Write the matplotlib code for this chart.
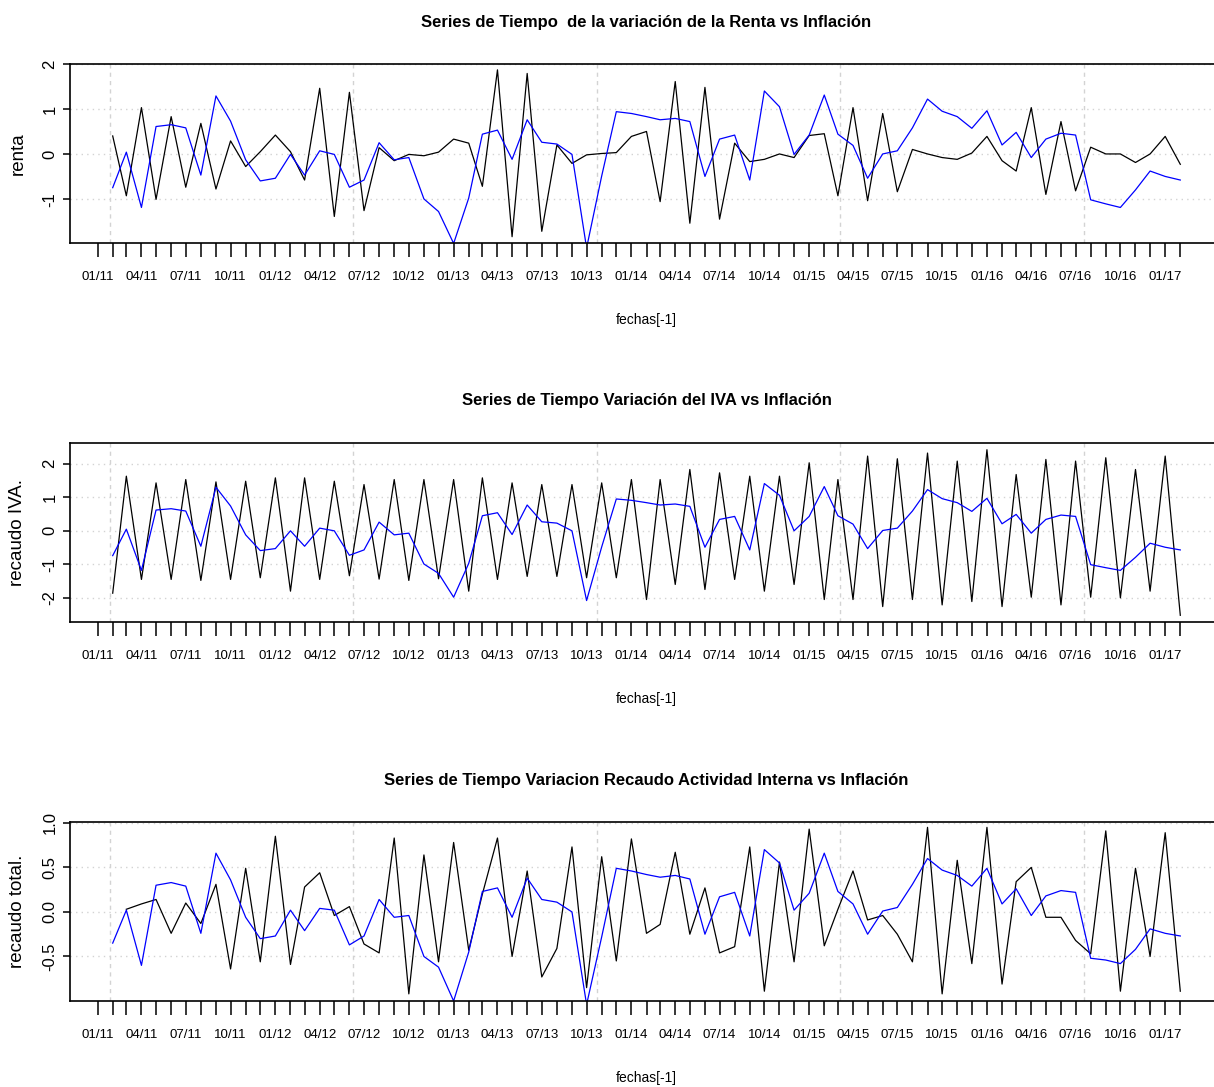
import numpy as np
import pandas as pd
import matplotlib
matplotlib.use('Agg')
from matplotlib import pyplot as plt
import matplotlib.dates as mdates

# Datos (02/11 .. 02/17, mensual)
fechas = pd.date_range('2011-02-01', periods=73, freq='MS')

inflacion = [
    -0.74, 0.05, -1.18, 0.62, 0.66, 0.59, -0.46, 1.30, 0.74, -0.12, -0.59,
    -0.53, 0.00, -0.46, 0.08, 0.00, -0.73, -0.57, 0.26, -0.12, -0.07, -0.99,
    -1.27, -1.98, -0.97, 0.45, 0.54, -0.11, 0.77, 0.27, 0.23, 0.00, -2.08,
    -0.48, 0.95, 0.91, 0.84, 0.77, 0.80, 0.73, -0.49, 0.34, 0.43, -0.57,
    1.41, 1.06, 0.00, 0.43, 1.32, 0.45, 0.20, -0.53, 0.01, 0.08, 0.59, 1.23,
    0.96, 0.84, 0.58, 0.97, 0.21, 0.49, -0.07, 0.34, 0.47, 0.43, -1.01,
    -1.10, -1.18, -0.79, -0.37, -0.49, -0.57]

renta = [
    0.41, -0.92, 1.04, -1.00, 0.84, -0.73, 0.69, -0.77, 0.30, -0.27, 0.06,
    0.43, 0.06, -0.57, 1.47, -1.38, 1.38, -1.25, 0.15, -0.14, 0.00, -0.03,
    0.05, 0.34, 0.25, -0.71, 1.88, -1.83, 1.80, -1.71, 0.21, -0.20, -0.01,
    0.02, 0.04, 0.40, 0.51, -1.05, 1.62, -1.53, 1.49, -1.44, 0.25, -0.16,
    -0.11, 0.01, -0.07, 0.42, 0.46, -0.92, 1.04, -1.03, 0.91, -0.83, 0.11,
    0.01, -0.07, -0.11, 0.03, 0.40, -0.14, -0.37, 1.04, -0.89, 0.73, -0.81,
    0.16, 0.01, 0.01, -0.18, 0.01, 0.40, -0.22]

iva = [
    -1.86, 1.63, -1.45, 1.43, -1.45, 1.53, -1.48, 1.46, -1.45, 1.48, -1.40,
    1.58, -1.80, 1.58, -1.45, 1.48, -1.34, 1.38, -1.44, 1.53, -1.48, 1.53,
    -1.43, 1.53, -1.80, 1.58, -1.45, 1.43, -1.36, 1.38, -1.36, 1.38, -1.40,
    1.43, -1.40, 1.53, -2.05, 1.53, -1.60, 1.83, -1.75, 1.73, -1.45, 1.63,
    -1.80, 1.63, -1.60, 2.03, -2.05, 1.53, -2.05, 2.23, -2.26, 2.15, -2.05,
    2.32, -2.21, 2.08, -2.11, 2.42, -2.26, 1.68, -1.98, 2.13, -2.21, 2.08,
    -1.98, 2.18, -2.00, 1.83, -1.80, 2.23, -2.52]

inflacion_total = [
    -0.35, 0.02, -0.60, 0.30, 0.33, 0.29, -0.24, 0.66, 0.36, -0.06, -0.30,
    -0.27, 0.02, -0.21, 0.04, 0.02, -0.37, -0.27, 0.14, -0.06, -0.04, -0.50,
    -0.62, -1.00, -0.45, 0.23, 0.27, -0.06, 0.38, 0.14, 0.11, 0.00, -1.04,
    -0.28, 0.49, 0.46, 0.42, 0.39, 0.41, 0.37, -0.25, 0.17, 0.22, -0.27,
    0.70, 0.55, 0.02, 0.21, 0.66, 0.23, 0.09, -0.25, 0.01, 0.05, 0.31, 0.60,
    0.47, 0.41, 0.29, 0.49, 0.09, 0.26, -0.04, 0.18, 0.24, 0.22, -0.52,
    -0.54, -0.58, -0.42, -0.19, -0.24, -0.27]

recaudo_total = [
    np.nan, 0.03, 0.09, 0.14, -0.24, 0.10, -0.13, 0.31, -0.64, 0.49, -0.56,
    0.85, -0.59, 0.28, 0.44, -0.04, 0.06, -0.36, -0.46, 0.83, -0.92, 0.64,
    -0.56, 0.78, -0.43, 0.20, 0.83, -0.50, 0.46, -0.73, -0.41, 0.73, -0.85,
    0.62, -0.55, 0.82, -0.24, -0.14, 0.67, -0.25, 0.27, -0.46, -0.39, 0.73,
    -0.89, 0.56, -0.56, 0.93, -0.38, 0.03, 0.46, -0.09, -0.04, -0.25, -0.56,
    0.95, -0.92, 0.58, -0.58, 0.95, -0.81, 0.34, 0.50, -0.06, -0.06, -0.32,
    -0.47, 0.91, -0.89, 0.49, -0.50, 0.89, -0.89]

titulos = ['Series de Tiempo  de la variación de la Renta vs Inflación',
           'Series de Tiempo Variación del IVA vs Inflación',
           'Series de Tiempo Variacion Recaudo Actividad Interna vs Inflación']
ylabels = ['renta', 'recaudo IVA.', 'recaudo total.']
series = [renta, iva, recaudo_total]
azules = [inflacion, inflacion, inflacion_total]
ylims = [(-1.97, 2.01), (-2.72, 2.62), (-1.0, 1.01)]
yticks = [[-1, 0, 1, 2], [-2, -1, 0, 1, 2], [-0.5, 0.0, 0.5, 1.0]]
yticklabels = [['-1', '0', '1', '2'], ['-2', '-1', '0', '1', '2'],
               ['-0.5', '0.0', '0.5', '1.0']]
tops = [64, 443, 822]

FONT = ['Liberation Sans', 'DejaVu Sans']

W, H = 1214, 1087
fig = plt.figure(figsize=(W / 100, H / 100), dpi=100)

x = mdates.date2num(fechas)
span = x[-1] - x[0]
xlim = (x[0] - 0.04 * span, x[-1] + 0.04 * span)
meses = pd.date_range('2011-01-01', '2017-02-01', freq='MS')
xt = mdates.date2num(meses)
xtl = [m.strftime('%m/%y') if i % 3 == 0 else '' for i, m in enumerate(meses)]

for k in range(3):
    left, right = 70, 1223
    top, bottom = tops[k], tops[k] + 179
    ax = fig.add_axes([left / W, 1 - bottom / H, (right - left) / W,
                       (bottom - top) / H])
    ax.set_xlim(xlim)
    ax.set_ylim(ylims[k])

    # grid como en R
    for v in yticks[k]:
        ax.axhline(v, color='lightgray', ls=(0, (1, 3)), lw=1.0, zorder=0)
    for v in [15000, 15500, 16000, 16500, 17000]:
        ax.axvline(v, color='lightgray', ls=(0, (3, 3)), lw=1.0, zorder=0)

    ax.plot(x, series[k], color='black', lw=0.9)
    ax.plot(x, azules[k], color='blue', lw=0.9)

    ax.set_xticks(xt)
    ax.set_xticklabels(xtl, family=FONT, fontsize=9.5)
    ax.set_yticks(yticks[k])
    ax.set_yticklabels(yticklabels[k], family=FONT, fontsize=12,
                       rotation=90, va='center')
    ax.tick_params(axis='x', length=10, width=1.1, pad=10)
    ax.tick_params(axis='y', length=5, width=1.1, pad=4)
    for s in ax.spines.values():
        s.set_linewidth(1.2)

    ax.text(0.5, 1 + 42 / 179, titulos[k], transform=ax.transAxes,
            ha='center', va='center', family=FONT, fontweight='bold',
            fontsize=12)
    ax.text(0.5, -77 / 179, 'fechas[-1]', transform=ax.transAxes,
            ha='center', va='center', family=FONT, fontsize=10)
    ax.text(-52 / 1153, 0.5, ylabels[k], transform=ax.transAxes,
            ha='center', va='center', rotation=90, family=FONT, fontsize=13.5)

fig.savefig('out.png', dpi=100)
